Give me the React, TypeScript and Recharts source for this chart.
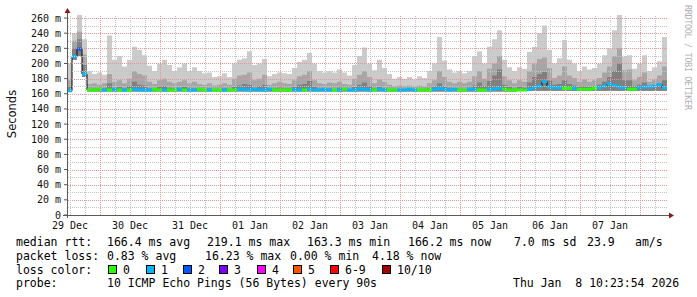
import { ComposedChart, Area, Line, Scatter, XAxis, YAxis } from "recharts";

const MONO = '"DejaVu Sans Mono", monospace';

// time axis: days after 29 Dec 00:00, one sample every 2 hours
const START = 0.45;
const STEP = 1 / 12;

const dayTicks = [0.5, 1.5, 2.5, 3.5, 4.5, 5.5, 6.5, 7.5, 8.5, 9.5];
const dayLabels = ["29 Dec", "30 Dec", "31 Dec", "01 Jan", "02 Jan", "03 Jan", "04 Jan", "05 Jan", "06 Jan", "07 Jan"];
const msTicks = [0, 20, 40, 60, 80, 100, 120, 140, 160, 180, 200, 220, 240, 260];

// smoke (ms): highest ping, middle band top, inner band top, lowest ping
const maxRtt = [
  200, 240, 264, 232, 190, 186, 188, 185, 237, 205,
  210, 196, 205, 222, 218, 211, 197, 190, 200, 205,
  198, 190, 195, 200, 190, 195, 190, 187, 188, 182,
  183, 187, 182, 200, 205, 207, 216, 198, 200, 206,
  183, 186, 188, 187, 186, 194, 202, 205, 214, 200,
  190, 188, 190, 188, 192, 188, 184, 198, 210, 221,
  200, 191, 205, 194, 186, 180, 182, 180, 182, 179,
  183, 181, 190, 200, 235, 204, 192, 188, 190, 187,
  190, 210, 216, 200, 222, 232, 244, 205, 195, 190,
  195, 193, 215, 222, 240, 250, 218, 200, 207, 231,
  205, 200, 190, 196, 192, 194, 200, 211, 220, 244,
  264, 209, 211, 193, 200, 211, 190, 195, 203, 235,
];
const midRtt = [
  178, 230, 242, 212, 173, 174, 172, 174, 186, 176,
  178, 174, 180, 190, 186, 184, 176, 173, 178, 180,
  176, 174, 176, 178, 174, 176, 173, 172, 174, 171,
  172, 174, 172, 180, 184, 185, 188, 178, 180, 185,
  172, 174, 176, 174, 173, 178, 183, 185, 190, 178,
  174, 173, 175, 174, 176, 173, 172, 180, 185, 190,
  182, 174, 179, 176, 172, 170, 171, 170, 171, 170,
  171, 170, 174, 178, 190, 182, 176, 174, 176, 174,
  176, 183, 190, 180, 193, 200, 210, 183, 178, 174,
  178, 176, 190, 200, 206, 208, 194, 181, 184, 196,
  184, 181, 176, 179, 176, 178, 181, 188, 196, 210,
  220, 191, 192, 178, 182, 188, 176, 179, 184, 196,
];
const darkRtt = [
  169, 220, 232, 198, 166, 167, 166, 167, 174, 167,
  169, 167, 170, 176, 172, 171, 167, 166, 169, 170,
  168, 167, 168, 169, 167, 167, 166, 166, 167, 166,
  166, 167, 166, 169, 171, 173, 172, 168, 170, 172,
  166, 167, 168, 167, 167, 169, 172, 173, 177, 169,
  167, 166, 167, 166, 168, 166, 165, 169, 172, 175,
  170, 167, 169, 167, 165, 165, 165, 165, 165, 165,
  166, 165, 167, 169, 174, 170, 168, 167, 167, 166,
  168, 171, 175, 170, 177, 184, 192, 172, 169, 167,
  169, 168, 175, 182, 186, 189, 178, 172, 173, 178,
  173, 171, 169, 170, 169, 170, 172, 176, 182, 190,
  200, 178, 178, 170, 172, 175, 170, 171, 174, 178,
];
const minRtt = [
  163, 205, 210, 182, 163, 163, 163, 163, 163, 163,
  163, 163, 163, 163, 163, 163, 163, 163, 163, 163,
  163, 163, 163, 163, 163, 163, 163, 163, 163, 163,
  163, 163, 163, 163, 163, 163, 163, 163, 163, 163,
  163, 163, 163, 163, 163, 163, 163, 163, 163, 163,
  163, 163, 163, 163, 163, 163, 163, 163, 163, 163,
  163, 163, 163, 163, 163, 163, 163, 163, 163, 163,
  163, 163, 163, 163, 163, 163, 163, 163, 163, 163,
  163, 163, 163, 163, 163, 163, 163, 163, 163, 163,
  164, 164, 164, 164, 164, 164, 164, 164, 164, 164,
  164, 164, 164, 164, 164, 164, 164, 164, 164, 164,
  164, 164, 164, 164, 164, 164, 164, 164, 164, 164,
];
const medianRtt = [
  164, 209, 219, 186, 165, 165, 166, 165, 165, 166,
  165, 165, 165, 166, 165, 165, 165, 166, 165, 165,
  165, 165, 166, 165, 165, 165, 166, 165, 165, 165,
  165, 165, 165, 165, 166, 166, 165, 166, 165, 165,
  166, 165, 165, 165, 165, 166, 165, 165, 166, 165,
  165, 166, 165, 165, 165, 166, 165, 165, 166, 166,
  165, 165, 166, 165, 165, 165, 165, 165, 166, 165,
  165, 165, 165, 166, 167, 166, 165, 166, 165, 165,
  166, 166, 165, 165, 166, 166, 167, 166, 165, 165,
  165, 165, 166, 168, 170, 176, 169, 168, 168, 167,
  167, 167, 166, 166, 166, 167, 168, 170, 173, 171,
  169, 168, 166, 166, 168, 169, 169, 170, 172, 168,
];
// lost pings out of 10 for each sample
const lossCount = [
  1, 1, 2, 1, 0, 0, 0, 1, 0, 1,
  0, 1, 0, 1, 1, 1, 1, 0, 0, 1,
  0, 0, 1, 0, 1, 1, 0, 0, 1, 0,
  0, 1, 0, 0, 1, 1, 1, 1, 1, 1,
  1, 0, 0, 0, 0, 1, 1, 0, 1, 1,
  1, 1, 1, 0, 1, 0, 1, 1, 1, 1,
  1, 0, 1, 1, 0, 0, 1, 1, 1, 1,
  0, 0, 0, 1, 1, 1, 1, 1, 0, 0,
  1, 1, 0, 0, 1, 1, 1, 0, 0, 0,
  0, 0, 1, 1, 1, 1, 1, 1, 1, 0,
  0, 1, 0, 0, 0, 0, 1, 1, 1, 1,
  1, 1, 0, 0, 1, 1, 1, 1, 1, 1,
];

const lossLabels = ["0", "1", "2", "3", "4", "5", "6-9", "10/10"];
const lossColors = ["#26ff00", "#00b8ff", "#0059ff", "#7e00ff", "#ff00ff", "#ff5500", "#ff0000", "#a10000"];

const rttStats = ["166.4 ms avg", "219.1 ms max", "163.3 ms min", "166.2 ms now", "7.0 ms sd", "23.9", "am/s"];
const lossStats = ["0.83 % avg", "16.23 % max", "0.00 % min", "4.18 % now"];
const probeText = "10 ICMP Echo Pings (56 Bytes) every 90s";
const stampText = "Thu Jan  8 10:23:54 2026";

const N = medianRtt.length;
const Y_MAX = 264;

// plot box (px) — same as the chart margins below
const PLOT_L = 67;
const PLOT_T = 15;
const PLOT_W = 600;
const PLOT_H = 200;
const BIN_PX = PLOT_W / N;

const MINOR = "#c4c4c4";
const MAJOR = "#e99494";

function lossColor(n: number) {
  if (n <= 5) return lossColors[n];
  if (n < 10) return lossColors[6];
  return lossColors[7];
}

const rows = medianRtt.map((m, i) => ({
  t: START + i * STEP,
  smoke: [minRtt[i], maxRtt[i]],
  smokeMid: [minRtt[i], midRtt[i]],
  smokeDark: [minRtt[i], darkRtt[i]],
  median: m,
  loss: lossCount[i],
}));
const chartRows = [...rows, { ...rows[N - 1], t: START + N * STEP }];

// grid: grey every 10 ms / 6 h, red every 20 ms / midnight
const gridY: { v: number; major: boolean }[] = [];
for (let v = 10; v <= 260; v += 10) gridY.push({ v, major: v % 20 === 0 });
const gridX: { v: number; major: boolean }[] = [];
for (let q = 2; q <= 41; q++) gridX.push({ v: q / 4, major: q % 4 === 0 });

const yPx = (v: number) => Math.round(PLOT_T + ((Y_MAX - v) / Y_MAX) * PLOT_H);
const xPx = (t: number) => Math.round(PLOT_L + ((t - START) / (N * STEP)) * PLOT_W);

function YTick(props: any) {
  const { x, y, payload } = props;
  return (
    <text x={x} y={y + 3.5} textAnchor="end" fontFamily={MONO} fontSize={10} fill="#111">
      {payload.value === 0 ? "0" : `${payload.value} m`}
    </text>
  );
}

function XTick(props: any) {
  const { x, payload } = props;
  const idx = dayTicks.indexOf(payload.value);
  return (
    <text x={x} y={228.5} textAnchor="middle" fontFamily={MONO} fontSize={10} fill="#111">
      {dayLabels[idx]}
    </text>
  );
}

function MedianBlock(props: any) {
  const { cx, cy, payload } = props;
  return <rect x={cx} y={cy - 1.5} width={BIN_PX} height={3} fill={lossColor(payload.loss)} />;
}

export default function App() {
  const boxX = [108, 146, 183, 219, 257, 293, 330, 382];
  const rttX = [107, 207, 307, 408, 514, 587, 635];
  const lossX = [107, 205, 290, 372];
  const txt = { fontFamily: MONO, fontSize: 11.5, fill: "#000", style: { whiteSpace: "pre" as const } };

  return (
    <div style={{ position: "absolute", left: 0, top: 0, width: 697, height: 297, background: "#fff" }}>
      <ComposedChart width={697} height={297} data={chartRows} margin={{ top: PLOT_T, right: 697 - PLOT_L - PLOT_W, bottom: 62, left: 0 }}>
        <XAxis
          dataKey="t"
          type="number"
          domain={[START, START + N * STEP]}
          ticks={dayTicks}
          interval={0}
          allowDataOverflow
          axisLine={false}
          tickLine={false}
          tickSize={0}
          tickMargin={6}
          height={20}
          tick={(p: any) => <XTick {...p} />}
        />
        <YAxis
          type="number"
          domain={[0, Y_MAX]}
          ticks={msTicks}
          interval={0}
          allowDataOverflow
          width={PLOT_L}
          axisLine={false}
          tickSize={3}
          tickMargin={3}
          tickLine={{ stroke: "#555" }}
          tick={(p: any) => <YTick {...p} />}
        />
        <Area dataKey="smoke" type="stepAfter" fill="#cbcbcb" fillOpacity={1} stroke="none" isAnimationActive={false} />
        <Area dataKey="smokeMid" type="stepAfter" fill="#a6a6a6" fillOpacity={1} stroke="none" isAnimationActive={false} />
        <Area dataKey="smokeDark" type="stepAfter" fill="#808080" fillOpacity={1} stroke="none" isAnimationActive={false} />
        <Line dataKey="median" type="stepAfter" stroke="#000" strokeWidth={1} dot={false} isAnimationActive={false} />
        <Scatter data={rows} dataKey="median" shape={MedianBlock} isAnimationActive={false} />
      </ComposedChart>

      <svg width={697} height={297} style={{ position: "absolute", left: 0, top: 0, pointerEvents: "none" }}>
        <defs>
          <pattern id="dotHminor" x={0} y={0} width={2} height={1} patternUnits="userSpaceOnUse">
            <rect x={0} y={0} width={1} height={1} fill={MINOR} />
          </pattern>
          <pattern id="dotHmajor" x={0} y={0} width={2} height={1} patternUnits="userSpaceOnUse">
            <rect x={0} y={0} width={1} height={1} fill={MAJOR} />
          </pattern>
          <pattern id="dotVminor" x={0} y={0} width={1} height={2} patternUnits="userSpaceOnUse">
            <rect x={0} y={0} width={1} height={1} fill={MINOR} />
          </pattern>
          <pattern id="dotVmajor" x={0} y={0} width={1} height={2} patternUnits="userSpaceOnUse">
            <rect x={0} y={0} width={1} height={1} fill={MAJOR} />
          </pattern>
        </defs>
        {/* rrdtool draws its dotted grid over the graph */}
        {gridY.map((g) => (
          <rect key={"gy" + g.v} x={PLOT_L + 1} y={yPx(g.v)} width={PLOT_W} height={1} fill={g.major ? "url(#dotHmajor)" : "url(#dotHminor)"} />
        ))}
        {gridX.map((g) => (
          <rect key={"gx" + g.v} x={xPx(g.v)} y={PLOT_T} width={1} height={PLOT_H} fill={g.major ? "url(#dotVmajor)" : "url(#dotVminor)"} />
        ))}

        {/* axes with arrows */}
        <line x1={67.5} y1={218} x2={67.5} y2={11} stroke="#5a5a5a" strokeWidth={1} />
        <line x1={63} y1={215.5} x2={670} y2={215.5} stroke="#5a5a5a" strokeWidth={1} />
        <polygon points="64.5,13 70.5,13 67.5,8" fill="#8a1a1a" />
        <polygon points="669,212.5 669,218.5 674,215.5" fill="#8a1a1a" />

        <text transform="translate(15.5,114) rotate(-90)" textAnchor="middle" fontFamily='"DejaVu Sans", sans-serif' fontSize={11.5} fill="#111">
          Seconds
        </text>
        <text transform="translate(685,5) rotate(90)" fontFamily={MONO} fontSize={8.5} fill="#b0b0b0" textLength={105} lengthAdjust="spacing">
          RRDTOOL / TOBI OETIKER
        </text>

        <text x={16} y={246} {...txt}>median rtt:</text>
        {rttStats.map((s, i) => (
          <text key={"r" + i} x={rttX[i]} y={246} {...txt}>{s}</text>
        ))}
        <text x={16} y={259.5} {...txt}>packet loss:</text>
        {lossStats.map((s, i) => (
          <text key={"l" + i} x={lossX[i]} y={259.5} {...txt}>{s}</text>
        ))}
        <text x={16} y={273.5} {...txt}>loss color:</text>
        {lossLabels.map((s, i) => (
          <g key={"c" + i}>
            <rect x={boxX[i] + 0.5} y={265.5} width={8} height={8} fill={lossColors[i]} stroke="#000" strokeWidth={1} />
            <text x={boxX[i] + 15} y={273.5} {...txt}>{s}</text>
          </g>
        ))}
        <text x={16} y={287} {...txt}>probe:</text>
        <text x={107} y={287} {...txt}>{probeText}</text>
        <text x={513} y={287} {...txt}>{stampText}</text>
      </svg>
    </div>
  );
}
